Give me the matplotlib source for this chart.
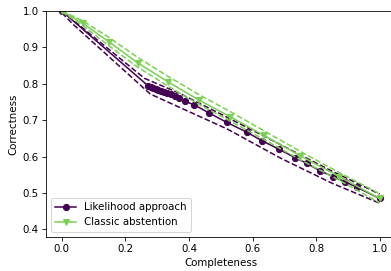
import matplotlib
matplotlib.use("Agg")
import matplotlib.pyplot as plt

# Likelihood approach (mean curve)
lik_x = [0.0, 0.272, 0.280, 0.288, 0.296, 0.304, 0.313, 0.322, 0.332, 0.343,
         0.356, 0.370, 0.388, 0.417, 0.463, 0.519, 0.582, 0.629, 0.684, 0.734,
         0.770, 0.812, 0.854, 0.891, 0.928, 1.0]
lik_y = [1.0, 0.794, 0.791, 0.789, 0.786, 0.784, 0.781, 0.778, 0.775, 0.771,
         0.766, 0.761, 0.752, 0.742, 0.720, 0.694, 0.667, 0.644, 0.620, 0.597,
         0.582, 0.561, 0.545, 0.531, 0.516, 0.485]
# Likelihood approach, dashed bounds
lik_up_x = [0.0, 0.26, 0.37, 0.52, 0.69, 0.85, 1.0]
lik_up_y = [1.0, 0.815, 0.774, 0.708, 0.632, 0.560, 0.497]
lik_lo_x = [0.0, 0.037, 0.278, 0.424, 0.52, 0.69, 0.85, 1.0]
lik_lo_y = [0.995, 0.962, 0.772, 0.714, 0.676, 0.595, 0.527, 0.472]

# Classic abstention (mean curve)
cls_x = [0.0, 0.066, 0.147, 0.238, 0.335, 0.430, 0.529, 0.636, 0.749, 0.873, 1.0]
cls_y = [1.0, 0.966, 0.916, 0.858, 0.805, 0.756, 0.710, 0.658, 0.603, 0.545, 0.485]
# Classic abstention, dashed bounds
cls_up_x = [0.0, 0.066, 0.147, 0.238, 0.335, 0.430, 0.529, 0.636, 0.749, 0.873, 1.0]
cls_up_y = [1.0, 0.973, 0.928, 0.873, 0.820, 0.771, 0.724, 0.671, 0.615, 0.556, 0.498]
cls_lo_x = [0.0, 0.066, 0.147, 0.238, 0.335, 0.430, 0.529, 0.636, 0.749, 0.873, 1.0]
cls_lo_y = [0.998, 0.960, 0.905, 0.846, 0.793, 0.744, 0.698, 0.647, 0.592, 0.535, 0.473]

purple = "#440154"
green = "#7ad151"

dpi = 74
fig = plt.figure(figsize=(391 / dpi, 271 / dpi), dpi=dpi)
ax = fig.add_axes([0.1176, 0.1266, 0.894, 0.8328])

ax.plot(lik_x, lik_y, "-o", color=purple, label="Likelihood approach")
ax.plot(lik_up_x, lik_up_y, "--", color=purple)
ax.plot(lik_lo_x, lik_lo_y, "--", color=purple)

ax.plot(cls_x, cls_y, "-v", color=green, label="Classic abstention")
ax.plot(cls_up_x, cls_up_y, "--", color=green)
ax.plot(cls_lo_x, cls_lo_y, "--", color=green)

ax.set_xlim(-0.05, 1.05)
ax.set_ylim(0.38, 1.0)
ax.set_xlabel("Completeness")
ax.set_ylabel("Correctness")
ax.legend(loc="lower left")

fig.savefig("out.png", dpi=dpi)
